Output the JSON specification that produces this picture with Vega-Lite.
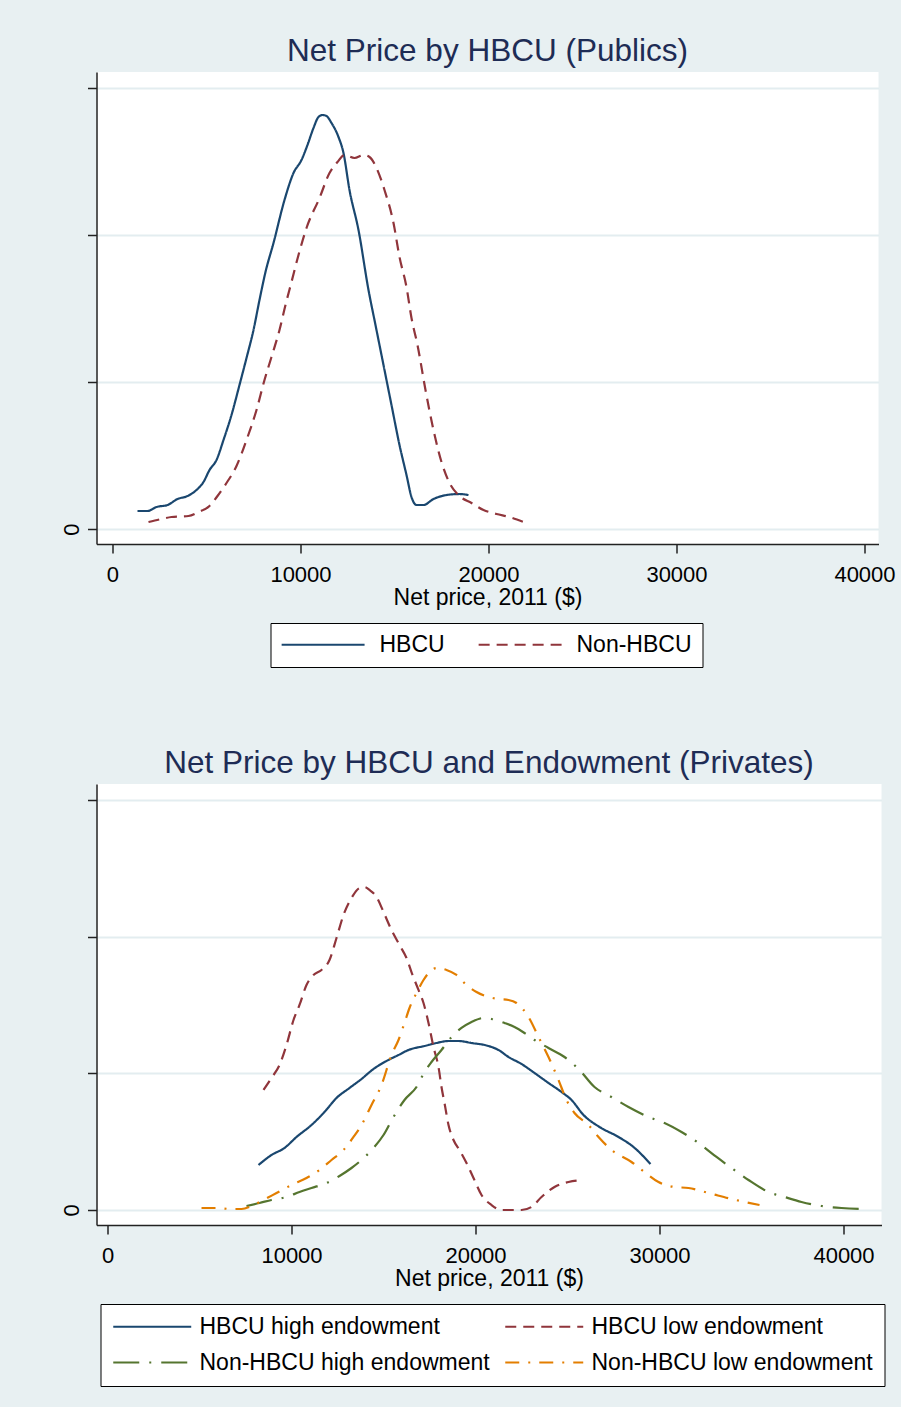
{
"$schema": "https://vega.github.io/schema/vega-lite/v6.json",
"background": "#e8f0f2",
"padding": {"left": 59.5, "top": 36, "right": 5, "bottom": 20},
"spacing": 80,
"config": {
 "font": "Liberation Sans",
 "view": {"fill": "#ffffff", "stroke": null},
 "title": {"fontSize": 31.5, "color": "#1e2c55", "fontWeight": "normal", "baseline": "bottom", "offset": 4.5, "anchor": "middle", "frame": "group"},
 "axis": {"labelFontSize": 22, "labelColor": "#000000", "titleFontSize": 23, "titleFontWeight": "normal", "titleColor": "#000000", "domainColor": "#222222", "domainWidth": 1.5, "tickColor": "#222222", "tickWidth": 1.5, "tickSize": 9, "gridColor": "#e3edf0", "gridWidth": 2, "labelOverlap": false},
 "axisX": {"grid": false, "labelPadding": 11.5, "titlePadding": 1, "labelFlush": false},
 "axisY": {"grid": true, "labelAngle": 270, "labelAlign": "center", "labelBaseline": "bottom", "labelPadding": 4.5},
 "legend": {"labelFontSize": 23, "labelColor": "#000000", "labelLimit": 500, "symbolType": "M-1,0H7", "symbolStrokeWidth": 2, "symbolFillColor": "transparent", "strokeColor": "#000000", "fillColor": "#ffffff", "orient": "none", "direction": "horizontal", "columns": 2}
},
"datasets": {
 "publics": [
  {"group":"HBCU","price":1330,"density":0.612e-5},{"group":"HBCU","price":1862,"density":0.612e-5},{"group":"HBCU","price":2340,"density":0.748e-5},{"group":"HBCU","price":2926,"density":0.816e-5},{"group":"HBCU","price":3457,"density":1.020e-5},{"group":"HBCU","price":3989,"density":1.122e-5},{"group":"HBCU","price":4468,"density":1.327e-5},{"group":"HBCU","price":4840,"density":1.599e-5},{"group":"HBCU","price":5160,"density":2.007e-5},{"group":"HBCU","price":5532,"density":2.347e-5},{"group":"HBCU","price":5904,"density":3.027e-5},{"group":"HBCU","price":6330,"density":3.878e-5},{"group":"HBCU","price":6755,"density":4.898e-5},{"group":"HBCU","price":7128,"density":5.816e-5},{"group":"HBCU","price":7500,"density":6.769e-5},{"group":"HBCU","price":7819,"density":7.789e-5},{"group":"HBCU","price":8138,"density":8.742e-5},{"group":"HBCU","price":8564,"density":9.728e-5},{"group":"HBCU","price":9149,"density":11.191e-5},{"group":"HBCU","price":9628,"density":12.109e-5},{"group":"HBCU","price":10053,"density":12.551e-5},{"group":"HBCU","price":10372,"density":13.061e-5},{"group":"HBCU","price":10691,"density":13.640e-5},{"group":"HBCU","price":10957,"density":14.014e-5},{"group":"HBCU","price":11170,"density":14.082e-5},{"group":"HBCU","price":11383,"density":14.048e-5},{"group":"HBCU","price":11649,"density":13.810e-5},{"group":"HBCU","price":12021,"density":13.333e-5},{"group":"HBCU","price":12287,"density":12.789e-5},{"group":"HBCU","price":12606,"density":11.531e-5},{"group":"HBCU","price":13085,"density":10.170e-5},{"group":"HBCU","price":13617,"density":8.129e-5},{"group":"HBCU","price":13989,"density":6.939e-5},{"group":"HBCU","price":14415,"density":5.578e-5},{"group":"HBCU","price":14840,"density":4.218e-5},{"group":"HBCU","price":15266,"density":2.857e-5},{"group":"HBCU","price":15638,"density":1.837e-5},{"group":"HBCU","price":15904,"density":1.088e-5},{"group":"HBCU","price":16170,"density":0.816e-5},{"group":"HBCU","price":16543,"density":0.816e-5},{"group":"HBCU","price":17074,"density":1.020e-5},{"group":"HBCU","price":17766,"density":1.156e-5},{"group":"HBCU","price":18457,"density":1.190e-5},{"group":"HBCU","price":18936,"density":1.156e-5},
  {"group":"Non-HBCU","price":1915,"density":0.238e-5},{"group":"Non-HBCU","price":2606,"density":0.340e-5},{"group":"Non-HBCU","price":3138,"density":0.408e-5},{"group":"Non-HBCU","price":4043,"density":0.442e-5},{"group":"Non-HBCU","price":4574,"density":0.578e-5},{"group":"Non-HBCU","price":5160,"density":0.782e-5},{"group":"Non-HBCU","price":5585,"density":1.122e-5},{"group":"Non-HBCU","price":6064,"density":1.565e-5},{"group":"Non-HBCU","price":6596,"density":2.143e-5},{"group":"Non-HBCU","price":7128,"density":3.027e-5},{"group":"Non-HBCU","price":7660,"density":4.048e-5},{"group":"Non-HBCU","price":8085,"density":5.068e-5},{"group":"Non-HBCU","price":8457,"density":5.850e-5},{"group":"Non-HBCU","price":8883,"density":6.769e-5},{"group":"Non-HBCU","price":9202,"density":7.619e-5},{"group":"Non-HBCU","price":9521,"density":8.401e-5},{"group":"Non-HBCU","price":9894,"density":9.320e-5},{"group":"Non-HBCU","price":10319,"density":10.238e-5},{"group":"Non-HBCU","price":11011,"density":11.259e-5},{"group":"Non-HBCU","price":11543,"density":12.109e-5},{"group":"Non-HBCU","price":11968,"density":12.483e-5},{"group":"Non-HBCU","price":12340,"density":12.721e-5},{"group":"Non-HBCU","price":12872,"density":12.619e-5},{"group":"Non-HBCU","price":13351,"density":12.721e-5},{"group":"Non-HBCU","price":13670,"density":12.653e-5},{"group":"Non-HBCU","price":14043,"density":12.279e-5},{"group":"Non-HBCU","price":14468,"density":11.531e-5},{"group":"Non-HBCU","price":14947,"density":10.408e-5},{"group":"Non-HBCU","price":15266,"density":9.252e-5},{"group":"Non-HBCU","price":15638,"density":8.231e-5},{"group":"Non-HBCU","price":15904,"density":7.177e-5},{"group":"Non-HBCU","price":16223,"density":6.259e-5},{"group":"Non-HBCU","price":16649,"density":4.728e-5},{"group":"Non-HBCU","price":17074,"density":3.367e-5},{"group":"Non-HBCU","price":17500,"density":2.279e-5},{"group":"Non-HBCU","price":17926,"density":1.565e-5},{"group":"Non-HBCU","price":18457,"density":1.122e-5},{"group":"Non-HBCU","price":19096,"density":0.884e-5},{"group":"Non-HBCU","price":19734,"density":0.646e-5},{"group":"Non-HBCU","price":20426,"density":0.510e-5},{"group":"Non-HBCU","price":21117,"density":0.408e-5},{"group":"Non-HBCU","price":21862,"density":0.238e-5}
 ],
 "privates": [
  {"group":"HBCU high endowment","price":8207,"density":1.646e-5},{"group":"HBCU high endowment","price":8913,"density":2.012e-5},{"group":"HBCU high endowment","price":9620,"density":2.268e-5},{"group":"HBCU high endowment","price":10272,"density":2.670e-5},{"group":"HBCU high endowment","price":11087,"density":3.109e-5},{"group":"HBCU high endowment","price":11793,"density":3.584e-5},{"group":"HBCU high endowment","price":12446,"density":4.097e-5},{"group":"HBCU high endowment","price":13152,"density":4.462e-5},{"group":"HBCU high endowment","price":13804,"density":4.791e-5},{"group":"HBCU high endowment","price":14457,"density":5.157e-5},{"group":"HBCU high endowment","price":15163,"density":5.450e-5},{"group":"HBCU high endowment","price":15815,"density":5.669e-5},{"group":"HBCU high endowment","price":16359,"density":5.852e-5},{"group":"HBCU high endowment","price":17228,"density":5.998e-5},{"group":"HBCU high endowment","price":17880,"density":6.108e-5},{"group":"HBCU high endowment","price":18533,"density":6.181e-5},{"group":"HBCU high endowment","price":19076,"density":6.181e-5},{"group":"HBCU high endowment","price":19783,"density":6.108e-5},{"group":"HBCU high endowment","price":20707,"density":5.998e-5},{"group":"HBCU high endowment","price":21250,"density":5.852e-5},{"group":"HBCU high endowment","price":21793,"density":5.596e-5},{"group":"HBCU high endowment","price":22500,"density":5.340e-5},{"group":"HBCU high endowment","price":23207,"density":5.011e-5},{"group":"HBCU high endowment","price":23967,"density":4.645e-5},{"group":"HBCU high endowment","price":24674,"density":4.316e-5},{"group":"HBCU high endowment","price":25217,"density":4.023e-5},{"group":"HBCU high endowment","price":25870,"density":3.475e-5},{"group":"HBCU high endowment","price":26739,"density":3.036e-5},{"group":"HBCU high endowment","price":27772,"density":2.670e-5},{"group":"HBCU high endowment","price":28587,"density":2.304e-5},{"group":"HBCU high endowment","price":29511,"density":1.682e-5},
  {"group":"HBCU low endowment","price":8478,"density":4.389e-5},{"group":"HBCU low endowment","price":8913,"density":4.828e-5},{"group":"HBCU low endowment","price":9348,"density":5.304e-5},{"group":"HBCU low endowment","price":9728,"density":6.035e-5},{"group":"HBCU low endowment","price":10109,"density":6.949e-5},{"group":"HBCU low endowment","price":10435,"density":7.498e-5},{"group":"HBCU low endowment","price":10815,"density":8.230e-5},{"group":"HBCU low endowment","price":11196,"density":8.595e-5},{"group":"HBCU low endowment","price":11630,"density":8.778e-5},{"group":"HBCU low endowment","price":12065,"density":9.144e-5},{"group":"HBCU low endowment","price":12446,"density":9.949e-5},{"group":"HBCU low endowment","price":12826,"density":10.790e-5},{"group":"HBCU low endowment","price":13261,"density":11.412e-5},{"group":"HBCU low endowment","price":13696,"density":11.777e-5},{"group":"HBCU low endowment","price":13967,"density":11.814e-5},{"group":"HBCU low endowment","price":14239,"density":11.704e-5},{"group":"HBCU low endowment","price":14620,"density":11.448e-5},{"group":"HBCU low endowment","price":15000,"density":10.900e-5},{"group":"HBCU low endowment","price":15435,"density":10.241e-5},{"group":"HBCU low endowment","price":15870,"density":9.693e-5},{"group":"HBCU low endowment","price":16250,"density":9.217e-5},{"group":"HBCU low endowment","price":16576,"density":8.595e-5},{"group":"HBCU low endowment","price":16902,"density":8.047e-5},{"group":"HBCU low endowment","price":17174,"density":7.571e-5},{"group":"HBCU low endowment","price":17446,"density":6.840e-5},{"group":"HBCU low endowment","price":17717,"density":5.962e-5},{"group":"HBCU low endowment","price":17989,"density":5.230e-5},{"group":"HBCU low endowment","price":18152,"density":4.499e-5},{"group":"HBCU low endowment","price":18315,"density":3.914e-5},{"group":"HBCU low endowment","price":18533,"density":3.109e-5},{"group":"HBCU low endowment","price":18804,"density":2.560e-5},{"group":"HBCU low endowment","price":19130,"density":2.195e-5},{"group":"HBCU low endowment","price":19511,"density":1.719e-5},{"group":"HBCU low endowment","price":19891,"density":1.170e-5},{"group":"HBCU low endowment","price":20326,"density":0.549e-5},{"group":"HBCU low endowment","price":20870,"density":0.183e-5},{"group":"HBCU low endowment","price":21413,"density":0},{"group":"HBCU low endowment","price":21957,"density":0},{"group":"HBCU low endowment","price":22500,"density":0},{"group":"HBCU low endowment","price":23043,"density":0.110e-5},{"group":"HBCU low endowment","price":23587,"density":0.475e-5},{"group":"HBCU low endowment","price":24293,"density":0.841e-5},{"group":"HBCU low endowment","price":25054,"density":1.024e-5},{"group":"HBCU low endowment","price":25870,"density":1.097e-5},
  {"group":"Non-HBCU high endowment","price":7554,"density":0.146e-5},{"group":"Non-HBCU high endowment","price":8261,"density":0.256e-5},{"group":"Non-HBCU high endowment","price":8913,"density":0.366e-5},{"group":"Non-HBCU high endowment","price":9728,"density":0.475e-5},{"group":"Non-HBCU high endowment","price":10435,"density":0.658e-5},{"group":"Non-HBCU high endowment","price":11087,"density":0.805e-5},{"group":"Non-HBCU high endowment","price":11902,"density":0.988e-5},{"group":"Non-HBCU high endowment","price":12609,"density":1.244e-5},{"group":"Non-HBCU high endowment","price":13261,"density":1.536e-5},{"group":"Non-HBCU high endowment","price":13804,"density":1.829e-5},{"group":"Non-HBCU high endowment","price":14457,"density":2.268e-5},{"group":"Non-HBCU high endowment","price":15000,"density":2.743e-5},{"group":"Non-HBCU high endowment","price":15543,"density":3.402e-5},{"group":"Non-HBCU high endowment","price":16141,"density":4.023e-5},{"group":"Non-HBCU high endowment","price":16793,"density":4.499e-5},{"group":"Non-HBCU high endowment","price":17228,"density":5.047e-5},{"group":"Non-HBCU high endowment","price":17609,"density":5.413e-5},{"group":"Non-HBCU high endowment","price":18152,"density":5.852e-5},{"group":"Non-HBCU high endowment","price":18696,"density":6.328e-5},{"group":"Non-HBCU high endowment","price":19239,"density":6.657e-5},{"group":"Non-HBCU high endowment","price":19783,"density":6.876e-5},{"group":"Non-HBCU high endowment","price":20435,"density":7.023e-5},{"group":"Non-HBCU high endowment","price":20870,"density":6.986e-5},{"group":"Non-HBCU high endowment","price":21576,"density":6.840e-5},{"group":"Non-HBCU high endowment","price":22120,"density":6.693e-5},{"group":"Non-HBCU high endowment","price":22663,"density":6.474e-5},{"group":"Non-HBCU high endowment","price":23207,"density":6.218e-5},{"group":"Non-HBCU high endowment","price":23967,"density":5.925e-5},{"group":"Non-HBCU high endowment","price":24837,"density":5.596e-5},{"group":"Non-HBCU high endowment","price":25652,"density":5.121e-5},{"group":"Non-HBCU high endowment","price":26467,"density":4.499e-5},{"group":"Non-HBCU high endowment","price":27391,"density":4.133e-5},{"group":"Non-HBCU high endowment","price":28315,"density":3.767e-5},{"group":"Non-HBCU high endowment","price":29402,"density":3.402e-5},{"group":"Non-HBCU high endowment","price":30272,"density":3.182e-5},{"group":"Non-HBCU high endowment","price":31196,"density":2.853e-5},{"group":"Non-HBCU high endowment","price":32120,"density":2.451e-5},{"group":"Non-HBCU high endowment","price":33098,"density":1.939e-5},{"group":"Non-HBCU high endowment","price":33913,"density":1.536e-5},{"group":"Non-HBCU high endowment","price":34837,"density":1.097e-5},{"group":"Non-HBCU high endowment","price":35924,"density":0.658e-5},{"group":"Non-HBCU high endowment","price":36793,"density":0.475e-5},{"group":"Non-HBCU high endowment","price":37717,"density":0.293e-5},{"group":"Non-HBCU high endowment","price":38804,"density":0.146e-5},{"group":"Non-HBCU high endowment","price":39891,"density":0.073e-5},{"group":"Non-HBCU high endowment","price":41141,"density":0.037e-5},
  {"group":"Non-HBCU low endowment","price":5109,"density":0.073e-5},{"group":"Non-HBCU low endowment","price":5924,"density":0.073e-5},{"group":"Non-HBCU low endowment","price":6739,"density":0.037e-5},{"group":"Non-HBCU low endowment","price":7283,"density":0.037e-5},{"group":"Non-HBCU low endowment","price":7826,"density":0.146e-5},{"group":"Non-HBCU low endowment","price":8478,"density":0.366e-5},{"group":"Non-HBCU low endowment","price":9185,"density":0.622e-5},{"group":"Non-HBCU low endowment","price":10000,"density":0.914e-5},{"group":"Non-HBCU low endowment","price":10815,"density":1.170e-5},{"group":"Non-HBCU low endowment","price":11522,"density":1.463e-5},{"group":"Non-HBCU low endowment","price":12174,"density":1.829e-5},{"group":"Non-HBCU low endowment","price":12826,"density":2.195e-5},{"group":"Non-HBCU low endowment","price":13370,"density":2.670e-5},{"group":"Non-HBCU low endowment","price":13804,"density":3.109e-5},{"group":"Non-HBCU low endowment","price":14348,"density":3.840e-5},{"group":"Non-HBCU low endowment","price":14891,"density":4.572e-5},{"group":"Non-HBCU low endowment","price":15435,"density":5.669e-5},{"group":"Non-HBCU low endowment","price":15815,"density":6.218e-5},{"group":"Non-HBCU low endowment","price":16141,"density":6.840e-5},{"group":"Non-HBCU low endowment","price":16413,"density":7.388e-5},{"group":"Non-HBCU low endowment","price":16793,"density":7.937e-5},{"group":"Non-HBCU low endowment","price":17174,"density":8.412e-5},{"group":"Non-HBCU low endowment","price":17500,"density":8.705e-5},{"group":"Non-HBCU low endowment","price":17880,"density":8.851e-5},{"group":"Non-HBCU low endowment","price":18424,"density":8.778e-5},{"group":"Non-HBCU low endowment","price":18967,"density":8.595e-5},{"group":"Non-HBCU low endowment","price":19511,"density":8.230e-5},{"group":"Non-HBCU low endowment","price":20054,"density":7.974e-5},{"group":"Non-HBCU low endowment","price":20707,"density":7.791e-5},{"group":"Non-HBCU low endowment","price":21250,"density":7.718e-5},{"group":"Non-HBCU low endowment","price":21793,"density":7.681e-5},{"group":"Non-HBCU low endowment","price":22228,"density":7.571e-5},{"group":"Non-HBCU low endowment","price":22880,"density":7.059e-5},{"group":"Non-HBCU low endowment","price":23424,"density":6.328e-5},{"group":"Non-HBCU low endowment","price":23967,"density":5.596e-5},{"group":"Non-HBCU low endowment","price":24511,"density":4.755e-5},{"group":"Non-HBCU low endowment","price":24946,"density":4.023e-5},{"group":"Non-HBCU low endowment","price":25380,"density":3.548e-5},{"group":"Non-HBCU low endowment","price":26141,"density":3.109e-5},{"group":"Non-HBCU low endowment","price":26685,"density":2.670e-5},{"group":"Non-HBCU low endowment","price":27391,"density":2.195e-5},{"group":"Non-HBCU low endowment","price":28478,"density":1.756e-5},{"group":"Non-HBCU low endowment","price":29185,"density":1.390e-5},{"group":"Non-HBCU low endowment","price":29946,"density":1.024e-5},{"group":"Non-HBCU low endowment","price":30815,"density":0.841e-5},{"group":"Non-HBCU low endowment","price":31576,"density":0.805e-5},{"group":"Non-HBCU low endowment","price":32663,"density":0.622e-5},{"group":"Non-HBCU low endowment","price":33913,"density":0.402e-5},{"group":"Non-HBCU low endowment","price":35435,"density":0.183e-5}
 ]
},
"vconcat": [
 {
  "title": {"text": "Net Price by HBCU (Publics)"},
  "width": 782, "height": 472,
  "data": {"name": "publics"},
  "mark": {"type": "line", "strokeWidth": 2.2, "strokeCap": "butt", "interpolate": "monotone"},
  "encoding": {
   "x": {"field": "price", "type": "quantitative", "scale": {"domain": [-851, 40745], "nice": false, "zero": false}, "axis": {"values": [0, 10000, 20000, 30000, 40000], "format": "d", "title": "Net price, 2011 ($)"}},
   "y": {"field": "density", "type": "quantitative", "scale": {"domain": [-0.0000051, 0.00015544], "nice": false, "zero": false}, "axis": {"values": [0, 0.00005, 0.0001, 0.00015], "labelExpr": "datum.value === 0 ? '0' : ''", "title": null}},
   "color": {"field": "group", "type": "nominal", "scale": {"domain": ["HBCU", "Non-HBCU"], "range": ["#1a476f", "#90353b"]}, "legend": {"title": null, "legendX": 174, "legendY": 551, "symbolSize": 430, "labelOffset": 76, "columnPadding": 29, "padding": 10}},
   "strokeDash": {"field": "group", "type": "nominal", "scale": {"domain": ["HBCU", "Non-HBCU"], "range": [[1, 0], [11, 7]]}, "legend": {"title": null, "legendX": 174, "legendY": 551, "symbolSize": 430, "labelOffset": 76, "columnPadding": 29, "padding": 10}}
  }
 },
 {
  "title": {"text": "Net Price by HBCU and Endowment (Privates)"},
  "width": 785, "height": 441,
  "data": {"name": "privates"},
  "mark": {"type": "line", "strokeWidth": 2.2, "strokeCap": "butt", "interpolate": "monotone"},
  "encoding": {
   "x": {"field": "price", "type": "quantitative", "scale": {"domain": [-598, 42065], "nice": false, "zero": false}, "axis": {"values": [0, 10000, 20000, 30000, 40000], "format": "d", "title": "Net price, 2011 ($)"}},
   "y": {"field": "density", "type": "quantitative", "scale": {"domain": [-0.00000549, 0.0001558], "nice": false, "zero": false}, "axis": {"values": [0, 0.00005, 0.0001, 0.00015], "labelExpr": "datum.value === 0 ? '0' : ''", "title": null}},
   "color": {"field": "group", "type": "nominal", "scale": {"domain": ["HBCU high endowment", "HBCU low endowment", "Non-HBCU high endowment", "Non-HBCU low endowment"], "range": ["#1a476f", "#90353b", "#55752f", "#e37e00"]}, "legend": {"title": null, "legendX": 4, "legendY": 520, "symbolSize": 380, "labelOffset": 65, "columnPadding": 10, "rowPadding": 12, "padding": 11}},
   "strokeDash": {"field": "group", "type": "nominal", "scale": {"domain": ["HBCU high endowment", "HBCU low endowment", "Non-HBCU high endowment", "Non-HBCU low endowment"], "range": [[1, 0], [11, 7], [26, 10, 2, 10], [14, 9, 2, 9]]}, "legend": {"title": null, "legendX": 4, "legendY": 520, "symbolSize": 380, "labelOffset": 65, "columnPadding": 10, "rowPadding": 12, "padding": 11}}
  }
 }
],
"resolve": {"scale": {"color": "independent", "strokeDash": "independent", "x": "independent", "y": "independent"}, "legend": {"color": "independent", "strokeDash": "independent"}}
}
